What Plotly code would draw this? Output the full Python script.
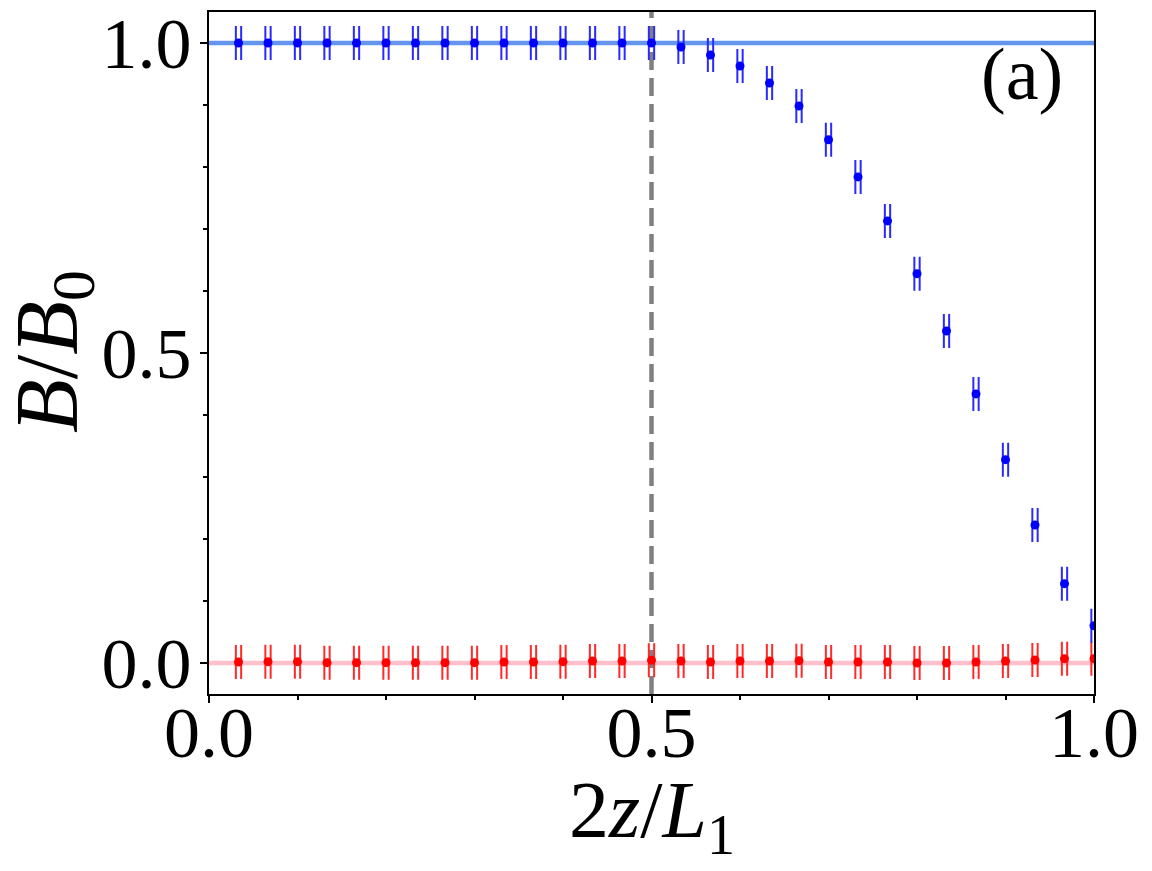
import plotly.graph_objects as go

# ---- data ----
z_index = list(range(1, 31))
x_pos = [k / 30 for k in z_index]

b_blue = [1.0] * 15 + [0.9935, 0.9806, 0.9629, 0.9355, 0.8984, 0.844, 0.784, 0.713,
                       0.628, 0.5355, 0.434, 0.328, 0.2226, 0.128, 0.060]
b_red = [0.0016, 0.0022, 0.0022, 0.0005, 0.0005, 0.0005, 0.0005, 0.0005, 0.0005, 0.0016,
         0.0016, 0.0022, 0.0032, 0.0032, 0.0043, 0.0032, 0.0016, 0.0032, 0.0032, 0.0038,
         0.0016, 0.0016, 0.0016, 0.0, 0.0, 0.0016, 0.0032, 0.0048, 0.007, 0.007]
x_err = 0.003

ref_x = [0.0, 1.0]
ref_blue = [1.0, 1.0]
ref_red = [0.0, 0.0]
x_mid = [0.5, 0.5]
y_span = [-0.05, 1.05]

x_ticks = [0.0, 0.5, 1.0]
x_ticklabels = ["0.0", "0.5", "1.0"]
y_ticks = [0.0, 0.5, 1.0]
y_ticklabels = ["0.0", "0.5", "1.0"]

x_title = "2<i>z</i>/<i>L</i><sub>1</sub>"
y_title = "<i>B</i>/<i>B</i><sub>0</sub>"
panel_label = "(a)"

FONT = "Liberation Serif"

fig = go.Figure()

fig.add_trace(go.Scatter(x=ref_x, y=ref_blue, mode="lines",
                         line=dict(color="#6495ED", width=4.5), showlegend=False))
fig.add_trace(go.Scatter(x=ref_x, y=ref_red, mode="lines",
                         line=dict(color="#FFC0CB", width=4.5), showlegend=False))
fig.add_trace(go.Scatter(x=x_mid, y=y_span, mode="lines",
                         line=dict(color="#808080", width=4.5, dash="18px,8px"),
                         showlegend=False))

fig.add_trace(go.Scatter(
    x=x_pos, y=b_red, mode="markers",
    marker=dict(color="#ff0000", size=9),
    error_x=dict(type="constant", value=x_err, width=17, thickness=2, color="#ff2a2a"),
    showlegend=False))
fig.add_trace(go.Scatter(
    x=x_pos, y=b_blue, mode="markers",
    marker=dict(color="#0000ff", size=9),
    error_x=dict(type="constant", value=x_err, width=17, thickness=2, color="#2a2aff"),
    showlegend=False))

# plot area in window pixels: x 209..1094, y 12..694
PX0, PX1, PY0, PY1 = 209, 1094, 12, 694


def dx(px):
    return (px - PX0) / (PX1 - PX0)


def dy(py):
    return 1 - (py - PY0) / (PY1 - PY0)


fig.add_annotation(x=dx(1022), y=dy(74), xref="x domain", yref="y domain", text=panel_label,
                   xanchor="center", yanchor="middle",
                   showarrow=False, font=dict(family=FONT, size=74, color="black"))
fig.add_annotation(x=dx(652), y=dy(816), xref="x domain", yref="y domain", text=x_title,
                   xanchor="center", yanchor="middle",
                   showarrow=False, font=dict(family=FONT, size=80, color="black"))
fig.add_annotation(x=dx(52), y=dy(352), xref="x domain", yref="y domain", text=y_title,
                   xanchor="center", yanchor="middle", textangle=-90,
                   showarrow=False, font=dict(family=FONT, size=88, color="black"))

axis_common = dict(
    showline=True, linecolor="black", linewidth=2, mirror=True,
    ticks="outside", ticklen=7, tickwidth=2, tickcolor="black",
    showgrid=False, zeroline=False, automargin=False, ticklabeloverflow="allow",
    tickfont=dict(family=FONT, size=72, color="black"),
)

fig.update_xaxes(range=[0, 1], tickvals=x_ticks, ticktext=x_ticklabels,
                 minor=dict(ticks="outside", ticklen=4, tickwidth=1.5, tickcolor="black", dtick=0.1),
                 ticklabelstandoff=-32,
                 **axis_common)
fig.update_yaxes(range=[-0.05, 1.05], tickvals=y_ticks, ticktext=y_ticklabels,
                 minor=dict(ticks="outside", ticklen=4, tickwidth=1.5, tickcolor="black", dtick=0.1),
                 ticklabelstandoff=-6,
                 **axis_common)

# page body has an 8px margin, so the figure is shifted by 8px; compensate
fig.update_layout(
    width=1144, height=863,
    margin=dict(l=201, r=58, t=4, b=177),
    paper_bgcolor="white", plot_bgcolor="white",
)

fig.write_html("out.html")
